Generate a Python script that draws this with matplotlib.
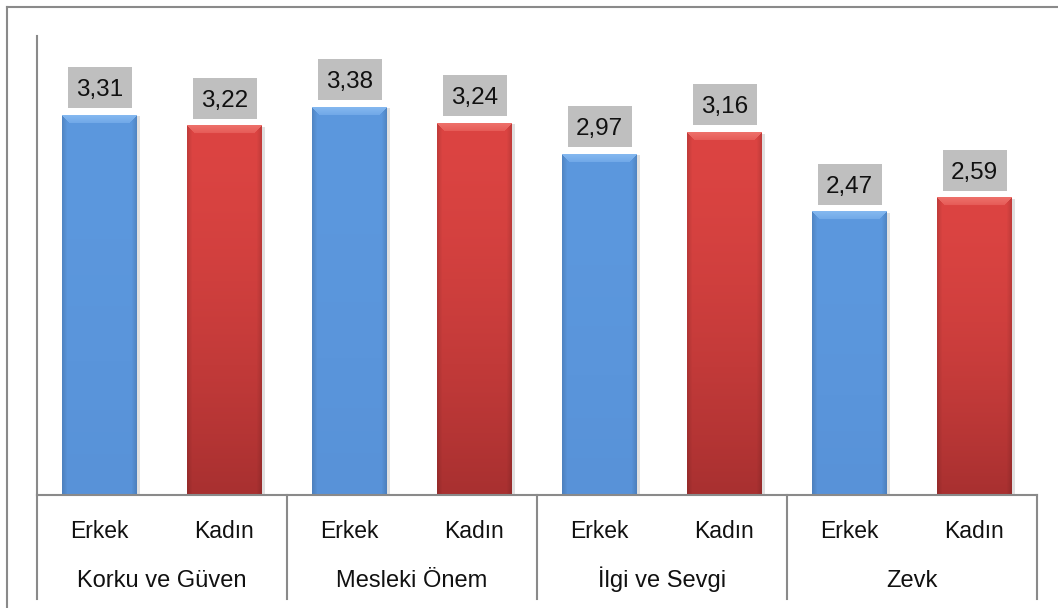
import numpy as np
import matplotlib
matplotlib.use("Agg")
import matplotlib.pyplot as plt
from matplotlib.patches import Rectangle
from matplotlib.lines import Line2D

groups = ["Korku ve Güven", "Mesleki Önem", "İlgi ve Sevgi", "Zevk"]
genders = ["Erkek", "Kadın"]
erkek = [3.31, 3.38, 2.97, 2.47]
kadin = [3.22, 3.24, 3.16, 2.59]

plt.rcParams["font.family"] = ["Liberation Sans", "DejaVu Sans"]

W, H, DPI = 1058, 608, 100
fig = plt.figure(figsize=(W / DPI, H / DPI), dpi=DPI)

# plot area in pixels
x0, x1, ytop, ybase = 37, 1037, 36, 495
ax = fig.add_axes([x0 / W, 1 - ybase / H, (x1 - x0) / W, (ybase - ytop) / H])
ymax = 4.0
px_y = (ybase - ytop) / ymax          # pixels per value unit
px_x = (x1 - x0) / 8                  # pixels per category

for s in ["top", "right"]:
    ax.spines[s].set_visible(False)
for s in ["left", "bottom"]:
    ax.spines[s].set_color("#8a8a8a")
    ax.spines[s].set_linewidth(1.5)
ax.set_xticks([])
ax.set_yticks([])

values = []
colors = []
for e, k in zip(erkek, kadin):
    values += [e, k]
    colors += ["blue", "red"]

bar_w = 0.6


def bar_image(v, kind):
    h = max(int(round(v * px_y)), 10)
    w = int(round(bar_w * px_x))
    t = np.linspace(0, 1, h)[:, None, None]
    if kind == "blue":
        top = np.array([92, 152, 222]) / 255
        bot = np.array([88, 146, 216]) / 255
        hi = np.array([132, 184, 240]) / 255
    else:
        top = np.array([220, 68, 66]) / 255
        bot = np.array([168, 48, 48]) / 255
        hi = np.array([238, 112, 106]) / 255
    img = top * (1 - t ** 1.6) + bot * t ** 1.6
    img = np.repeat(img, w, axis=1)
    # darker side edges
    cx = np.arange(w)
    edge = np.minimum(cx, w - 1 - cx)
    shade = np.clip(edge / 5.0, 0, 1) * 0.12 + 0.88
    img = img * shade[None, :, None]
    # bevelled top
    bev = 8
    for r in range(min(bev, h)):
        for c in range(w):
            if r <= c <= w - 1 - r:
                f = 1 - r / bev * 0.5
                img[r, c] = hi * f + img[r, c] * (1 - f)
    return np.clip(img, 0, 1)


for i, (v, kind) in enumerate(zip(values, colors)):
    left = i - bar_w / 2
    # soft shadow
    ax.add_patch(Rectangle((left + 0.01, 0), bar_w + 0.01, v - 0.01,
                           facecolor="#000000", alpha=0.12, edgecolor="none",
                           zorder=1))
    ax.imshow(bar_image(v, kind), extent=(left, left + bar_w, 0, v),
              aspect="auto", interpolation="bilinear", zorder=2)

    # value label box
    bw = 64 / px_x
    bh = 41 / px_y
    gap = 7 / px_y
    ax.add_patch(Rectangle((i - bw / 2, v + gap), bw, bh, facecolor="#bfbfbf",
                           edgecolor="none", zorder=3, clip_on=False))
    ax.text(i, v + gap + 12 / px_y, f"{v:.2f}".replace(".", ","), ha="center",
            va="baseline", fontsize=17.5, color="#111111", zorder=4)

ax.set_xlim(-0.5, 7.5)
ax.set_ylim(0, ymax)

# category table below the axis
trans = ax.get_xaxis_transform()
yb = (ybase - 599) / (ybase - ytop)
for sx in [-0.5, 1.5, 3.5, 5.5, 7.5]:
    ax.add_line(Line2D([sx, sx], [0, yb], transform=trans, color="#8a8a8a",
                       lw=1.5, clip_on=False))

y_gender = (ybase - 538) / (ybase - ytop)
y_group = (ybase - 587) / (ybase - ytop)
for i in range(len(values)):
    ax.text(i, y_gender, genders[i % 2], transform=trans, ha="center",
            va="baseline", fontsize=16.5, color="#111111")
for g, name in enumerate(groups):
    ax.text(2 * g + 0.5, y_group, name, transform=trans, ha="center",
            va="baseline", fontsize=17, color="#111111")

# outer frame
fig.add_artist(Line2D([7 / W, 1], [1 - 7 / H, 1 - 7 / H], color="#8a8a8a", lw=1.5))
fig.add_artist(Line2D([7 / W, 7 / W], [0, 1 - 7 / H], color="#8a8a8a", lw=1.5))

fig.savefig("out.png", dpi=DPI, facecolor="white")
